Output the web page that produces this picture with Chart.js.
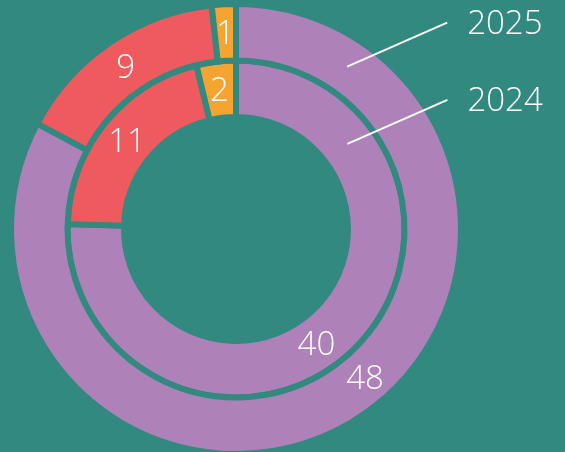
<!DOCTYPE html>
<html>
<head>
<meta charset="utf-8">
<script src="https://cdn.jsdelivr.net/npm/chart.js@4/dist/chart.umd.min.js"></script>
<style>
  html, body { margin: 0; padding: 0; width: 565px; height: 452px; overflow: hidden; background: #32897f; }
  #wrap { position: absolute; left: 0; top: 0; width: 565px; height: 470px; }
</style>
</head>
<body>
<div id="wrap"><canvas id="c"></canvas></div>
<script>
const categories = ['A', 'B', 'C'];
const years = ['2025', '2024'];
const values2025 = [48, 9, 1];
const values2024 = [40, 11, 2];

const BG = '#32897f';
const colors = ['#ae82b8', '#ee5a5e', '#f6a431'];
const FONT = '300 33px "Open Sans", Lato, sans-serif';
const TEXT_DY = 3;

// angle overrides (degrees clockwise from top) for the value labels of the first slice
const labelAngleOverride = { 0: { 0: 139 }, 1: { 0: 145 } };
// callout anchor angles (degrees clockwise from top) for each ring
const calloutAngles = [34.4, 52.6];

const labelsPlugin = {
  id: 'ringLabels',
  afterDatasetsDraw(chart) {
    const ctx = chart.ctx;
    ctx.save();
    ctx.fillStyle = '#ffffff';
    ctx.font = FONT;
    ctx.textAlign = 'center';
    ctx.textBaseline = 'middle';
    chart.data.datasets.forEach((ds, di) => {
      const meta = chart.getDatasetMeta(di);
      meta.data.forEach((arc, i) => {
        const p = arc.getProps(['x', 'y', 'startAngle', 'endAngle', 'innerRadius', 'outerRadius'], true);
        const r = (p.innerRadius + p.outerRadius) / 2;
        let a = (p.startAngle + p.endAngle) / 2;
        const ov = labelAngleOverride[di] && labelAngleOverride[di][i];
        if (ov !== undefined) a = (ov - 90) * Math.PI / 180;
        ctx.fillText(String(ds.data[i]), p.x + Math.cos(a) * r, p.y + Math.sin(a) * r + TEXT_DY - 1);
      });
      // callout line + year label
      const arc0 = meta.data[0];
      const p0 = arc0.getProps(['x', 'y', 'innerRadius', 'outerRadius'], true);
      const rm = (p0.innerRadius + p0.outerRadius) / 2;
      const ang = (calloutAngles[di] - 90) * Math.PI / 180;
      const sx = p0.x + Math.cos(ang) * rm;
      const sy = p0.y + Math.sin(ang) * rm;
      const ex = sx + 100;
      const ey = sy - 44;
      ctx.strokeStyle = '#ffffff';
      ctx.lineWidth = 2;
      ctx.beginPath();
      ctx.moveTo(sx, sy);
      ctx.lineTo(ex, ey);
      ctx.stroke();
      ctx.textAlign = 'left';
      ctx.fillText(ds.label, ex + 20, ey - 1 + TEXT_DY);
      ctx.textAlign = 'center';
    });
    ctx.restore();
  }
};

new Chart(document.getElementById('c'), {
  type: 'doughnut',
  data: {
    labels: categories,
    datasets: [
      { label: years[0], data: values2025, backgroundColor: colors, borderColor: BG, borderWidth: 6, hoverBorderWidth: 6, borderJoinStyle: 'miter' },
      { label: years[1], data: values2024, backgroundColor: colors, borderColor: BG, borderWidth: 6, hoverBorderWidth: 6, borderJoinStyle: 'miter' }
    ]
  },
  options: {
    responsive: true,
    maintainAspectRatio: false,
    animation: false,
    events: [],
    cutout: 112,
    layout: { padding: { left: 8, right: 101, top: 1, bottom: 13 } },
    plugins: { legend: { display: false }, tooltip: { enabled: false } }
  },
  plugins: [labelsPlugin]
});
</script>
</body>
</html>
